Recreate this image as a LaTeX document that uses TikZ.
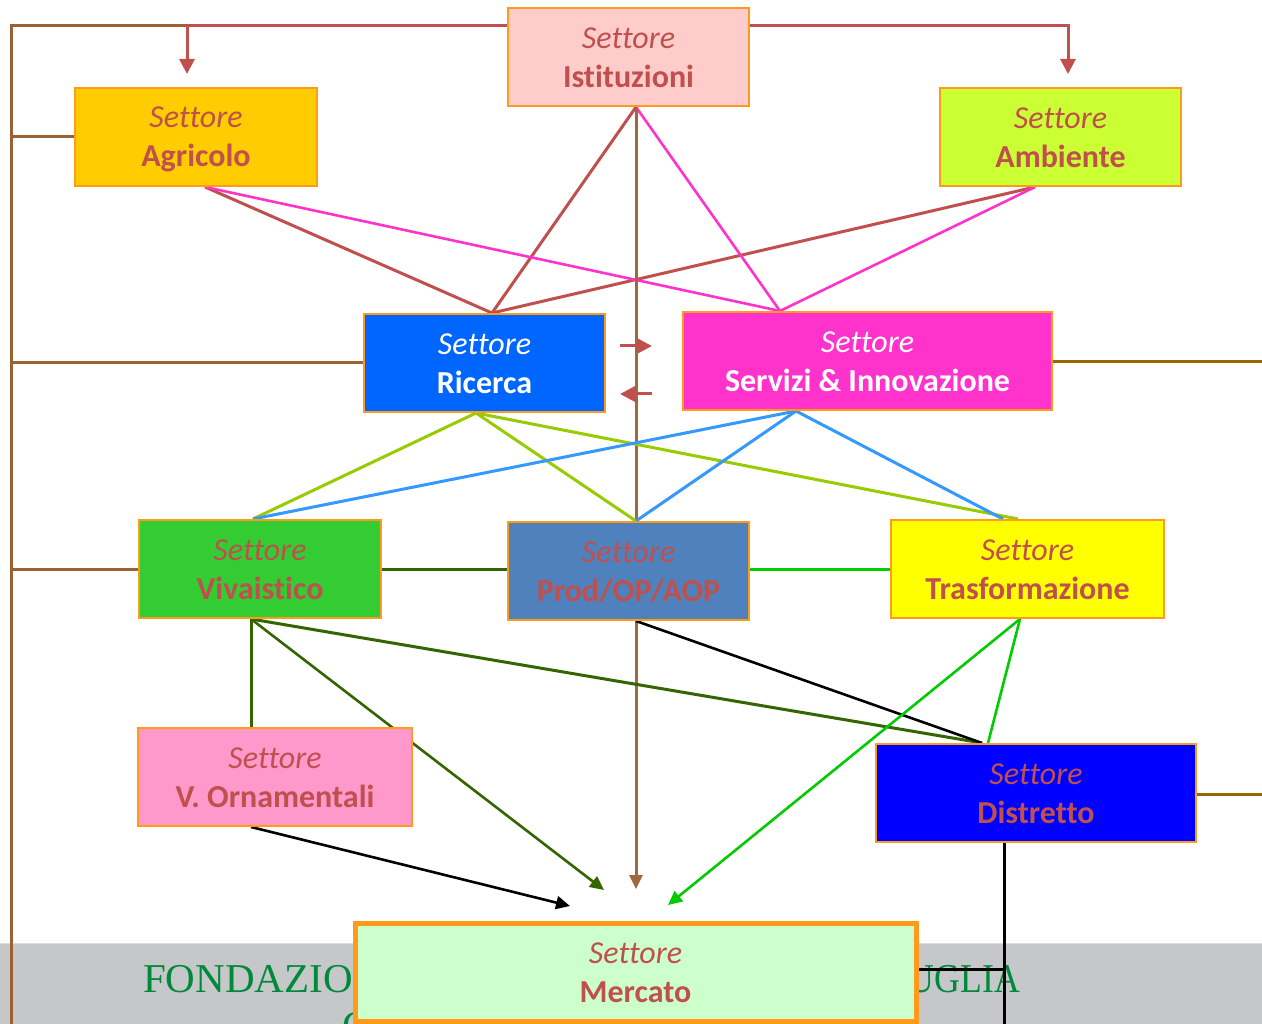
\documentclass[tikz,border=0pt]{standalone}
\usepackage{fontspec}
\setmainfont{Carlito}[Ligatures=NoCommon]
\newfontfamily\fondfont{Liberation Serif}
\usetikzlibrary{arrows.meta,calc}
\definecolor{bord}{HTML}{FF9A1A}
\definecolor{sred}{HTML}{C0504D}
\definecolor{cIst}{HTML}{FFCCCC}
\definecolor{cAgr}{HTML}{FFCC00}
\definecolor{cAmb}{HTML}{CCFF33}
\definecolor{cRic}{HTML}{0066FF}
\definecolor{cSer}{HTML}{FF33CC}
\definecolor{cViv}{HTML}{33CC33}
\definecolor{cProd}{HTML}{4F81BD}
\definecolor{cTra}{HTML}{FFFF00}
\definecolor{cOrn}{HTML}{FF99CC}
\definecolor{cDis}{HTML}{0000FF}
\definecolor{cMer}{HTML}{CCFFCC}
\definecolor{band}{HTML}{C6C7C9}
\definecolor{bandtop}{HTML}{DCDCDC}
\definecolor{fgreen}{HTML}{00893C}
\definecolor{frameL}{HTML}{9A6230}
\definecolor{frameR}{HTML}{996600}
\definecolor{lbrown}{HTML}{9E6A3C}
\definecolor{lyg}{HTML}{99CC00}
\definecolor{lblue}{HTML}{3399FF}
\definecolor{ldg}{HTML}{336600}
\definecolor{lgreen}{HTML}{00CC00}
\definecolor{lmag}{HTML}{FF33CC}
\newcommand\mystrut{\rule[-3pt]{0pt}{28pt}}
\newcommand\sett[1]{\mystrut\textit{Settore}\\\mystrut\textbf{#1}}
\pgfdeclarelayer{bg}
\pgfsetlayers{bg,main}
\begin{document}
\begin{tikzpicture}[x=1pt,y=-1pt,
  sbox/.style={draw=bord, line width=2pt, minimum height=98pt, inner sep=0pt,
    align=center, font=\fontsize{32}{39}\selectfont, text=sred},
  conn/.style={line width=3pt},
  thinconn/.style={line width=2.6pt},
  redtip/.style={-{Triangle[length=15pt,width=15pt]}},
  smalltip/.style={-{Triangle[length=14pt,width=13pt]}},
  fondtext/.style={font=\fondfont\fontsize{41}{47}\selectfont, text=fgreen, inner sep=0pt}
]
\useasboundingbox (0,0) rectangle (1262,1024);

% boxes
\node[sbox, fill=cIst, minimum width=241pt] (ist) at (628.5,57) {\sett{Istituzioni}};
\node[sbox, fill=cAgr, minimum width=242pt] (agr) at (196,137) {\sett{Agricolo}};
\node[sbox, fill=cAmb, minimum width=241pt] (amb) at (1060.5,137) {\sett{Ambiente}};
\node[sbox, fill=cRic, minimum width=241pt, text=white] (ric) at (484.5,363) {\sett{Ricerca}};
\node[sbox, fill=cSer, minimum width=369pt, text=white] (ser) at (867.5,361) {\sett{Servizi \& Innovazione}};
\node[sbox, fill=cViv, minimum width=242pt] (viv) at (260,569) {\sett{Vivaistico}};
\node[sbox, fill=cProd, minimum width=241pt] (prod) at (628.5,571) {\sett{Prod/OP/AOP}};
\node[sbox, fill=cTra, minimum width=273pt] (tra) at (1027.5,569) {\sett{Trasformazione}};
\node[sbox, fill=cOrn, minimum width=274pt] (orn) at (275,777) {\sett{V. Ornamentali}};
\node[sbox, fill=cDis, minimum width=320pt] (dis) at (1036,793) {\sett{Distretto}};
\node[sbox, fill=cMer, minimum width=561pt, line width=5pt] (mer) at (635.5,972) {\sett{Mercato}};

% connection points
\coordinate (istB) at ($(ist.south)+(7.5,0)$);
\coordinate (istL) at ($(ist.west)+(0,-31)$);
\coordinate (istR) at ($(ist.east)+(0,-31)$);
\coordinate (agrB) at ($(agr.south)+(9,0)$);
\coordinate (ambB) at ($(amb.south)+(-25.5,0)$);
\coordinate (ricT) at ($(ric.north)+(7.5,0)$);
\coordinate (serT) at ($(ser.north)+(-87.5,0)$);
\coordinate (ricB) at ($(ric.south)+(-8.5,0)$);
\coordinate (serB) at ($(ser.south)+(-71.5,0)$);
\coordinate (vivT) at ($(viv.north)+(-7,0)$);
\coordinate (prodT) at ($(prod.north)+(7.5,0)$);
\coordinate (prodB) at ($(prod.south)+(7.5,0)$);
\coordinate (traT1) at ($(tra.north)+(-9.5,0)$);
\coordinate (traT2) at ($(tra.north)+(-24.5,0)$);
\coordinate (vivB) at ($(viv.south)+(-9,0)$);
\coordinate (traB) at ($(tra.south)+(-7.5,0)$);
\coordinate (ornT) at (vivB |- orn.north);
\coordinate (ornB) at ($(orn.south)+(-24,0)$);
\coordinate (disT1) at ($(dis.north)+(-54,0)$);
\coordinate (disT2) at ($(dis.north)+(-48,0)$);
\coordinate (disB) at ($(dis.south)+(-32,0)$);
\coordinate (merR) at ($(mer.east)+(0,-3)$);
\coordinate (disJ) at (disB |- merR);
\coordinate (disEnd) at (1004,1026);
\coordinate (mA) at (570,906);
\coordinate (mB) at (604,890);
\coordinate (mC) at (636,889);
\coordinate (mD) at (668,905);
\coordinate (fTL) at (11,26);
\coordinate (fBL) at (11,1026);
\coordinate (agrK) at (187,26);
\coordinate (agrTip) at (187,74);
\coordinate (ambK) at (1068,26);
\coordinate (ambTip) at (1068,74);
\coordinate (rsA1) at (620,346);
\coordinate (rsA2) at (652,346);
\coordinate (rsB1) at (652,394);
\coordinate (rsB2) at (620,394);
\coordinate (serRight) at (1264,362);
\coordinate (disRight) at (1264,794);

\begin{pgfonlayer}{bg}
\fill[white] (0,0) rectangle (1262,1024);
\fill[band] (0,943) rectangle (1262,1026);
\draw[bandtop, line width=1.5pt] (0,943.5) -- (1262,943.5);
\node[fondtext, anchor=base west] (fond) at (143,992) {FONDAZIONE};
\node[fondtext, anchor=base east] (pug) at (1020,992) {\scalebox{0.87}[1]{PUGLIA}};
\node[fondtext, anchor=base west] (fondc) at (342,1039) {C};

% left frame
\draw[frameL, conn] (agrK) -- (fTL) -- (fBL);
\draw[frameL, conn] (fTL |- agr.west) -- (agr.west);
\draw[frameL, conn] (fTL |- ric.west) -- (ric.west);
\draw[frameL, conn] (fTL |- viv.west) -- (viv.west);
% right frame stubs
\draw[frameR, conn] (ser.east |- serRight) -- (serRight);
\draw[frameR, conn] (dis.east |- disRight) -- (disRight);

% Istituzioni arrows
\draw[sred, line width=3pt, redtip] (istL) -- (agrK) -- (agrTip);
\draw[sred, line width=3pt, redtip] (istR) -- (ambK) -- (ambTip);

% top lines
\draw[sred, conn] (istB) -- (ricT);
\draw[sred, conn] (agrB) -- (ricT);
\draw[sred, conn] (ambB) -- (ricT);
\draw[lmag, thinconn] (istB) -- (serT);
\draw[lmag, thinconn] (agrB) -- (serT);
\draw[lmag, thinconn] (ambB) -- (serT);

% brown vertical
\draw[lbrown, conn] (istB) -- (prodT);
\draw[lbrown, conn, smalltip] (prodB) -- (mC);

% Ricerca <-> Servizi
\draw[sred, line width=3pt, redtip] (rsA1) -- (rsA2);
\draw[sred, line width=3pt, redtip] (rsB1) -- (rsB2);

% middle lines
\draw[lyg, conn] (ricB) -- (vivT);
\draw[lyg, conn] (ricB) -- (prodT);
\draw[lyg, conn] (ricB) -- (traT1);
\draw[lblue, conn] (serB) -- (vivT);
\draw[lblue, conn] (serB) -- (prodT);
\draw[lblue, conn] (serB) -- (traT2);

\draw[ldg, conn] (viv.east) -- (prod.west |- viv.east);
\draw[lgreen, conn] (prod.east |- tra.west) -- (tra.west);

% lower lines
\draw[ldg, conn] (vivB) -- (ornT);
\draw[ldg, thinconn, smalltip] (vivB) -- (mB);
\draw[ldg, conn] (vivB) -- (disT1);
\draw[black, thinconn] (prodB) -- (disT1);
\draw[lgreen, thinconn] (traB) -- (disT2);
\draw[lgreen, thinconn, smalltip] (traB) -- (mD);
\draw[black, thinconn, smalltip] (ornB) -- (mA);
\draw[black, line width=3pt] (disB) -- (disEnd);
\draw[black, line width=3pt] (merR) -- (disJ);
\end{pgfonlayer}
\end{tikzpicture}
\end{document}
